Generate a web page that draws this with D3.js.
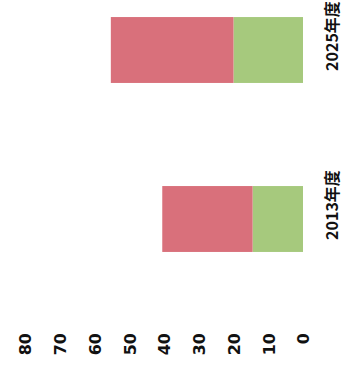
<!DOCTYPE html>
<html>
<head>
<meta charset="utf-8">
<script src="https://cdn.jsdelivr.net/npm/d3@7"></script>
<style>
  html, body { margin: 0; padding: 0; background: #fff; }
  svg { display: block; }
</style>
</head>
<body>
<script>
// Data
const categories = ["2013年度", "2025年度"];
const greenValues = [14.5, 20];
const redValues = [26, 35.3];
const tickValues = [0, 10, 20, 30, 40, 50, 60, 70, 80];

const W = 344, H = 374;
const svg = d3.select("body").append("svg")
  .attr("width", W).attr("height", H);
svg.append("rect").attr("width", W).attr("height", H).attr("fill", "#fff");

// Chart drawn in an unrotated frame (width H, height W), then rotated -90deg
const g = svg.append("g").attr("transform", `translate(0,${H}) rotate(-90)`);

const y = d3.scaleLinear().domain([0, 80]).range([303, 25]);
const x = d3.scaleBand().domain(categories).range([70.5, 408.5])
  .paddingInner(0.61).paddingOuter(0.305);

const rows = categories.map((c, i) => ({ c, green: greenValues[i], red: redValues[i] }));
const stack = d3.stack().keys(["green", "red"])(rows);
const colors = { green: "#a6c97d", red: "#d9707b" };

g.selectAll("g.layer").data(stack).join("g")
  .attr("class", "layer")
  .attr("fill", d => colors[d.key])
  .selectAll("rect").data(d => d).join("rect")
  .attr("x", d => x(d.data.c))
  .attr("width", x.bandwidth())
  .attr("y", d => y(d[1]))
  .attr("height", d => y(d[0]) - y(d[1]));

// Value axis (left in unrotated frame)
const axis = d3.axisLeft(y).tickValues(tickValues).tickSize(0).tickPadding(0);
const ag = g.append("g").attr("transform", "translate(41,0)").call(axis);
ag.select(".domain").remove();
ag.selectAll("text")
  .attr("font-family", "DejaVu Sans")
  .attr("font-weight", "bold")
  .attr("font-size", 16)
  .attr("fill", "#111")
  .attr("x", 0)
  .attr("dy", "0.36em")
  .attr("text-anchor", "end");

// Category labels
g.selectAll("text.cat").data(categories).join("text")
  .attr("class", "cat")
  .attr("x", d => x(d) + x.bandwidth() / 2 + 14)
  .attr("y", 338)
  .attr("text-anchor", "middle")
  .attr("font-family", "Noto Sans CJK JP")
  .attr("font-weight", "bold")
  .attr("font-size", 16)
  .attr("fill", "#111")
  .text(d => d);
</script>
</body>
</html>
